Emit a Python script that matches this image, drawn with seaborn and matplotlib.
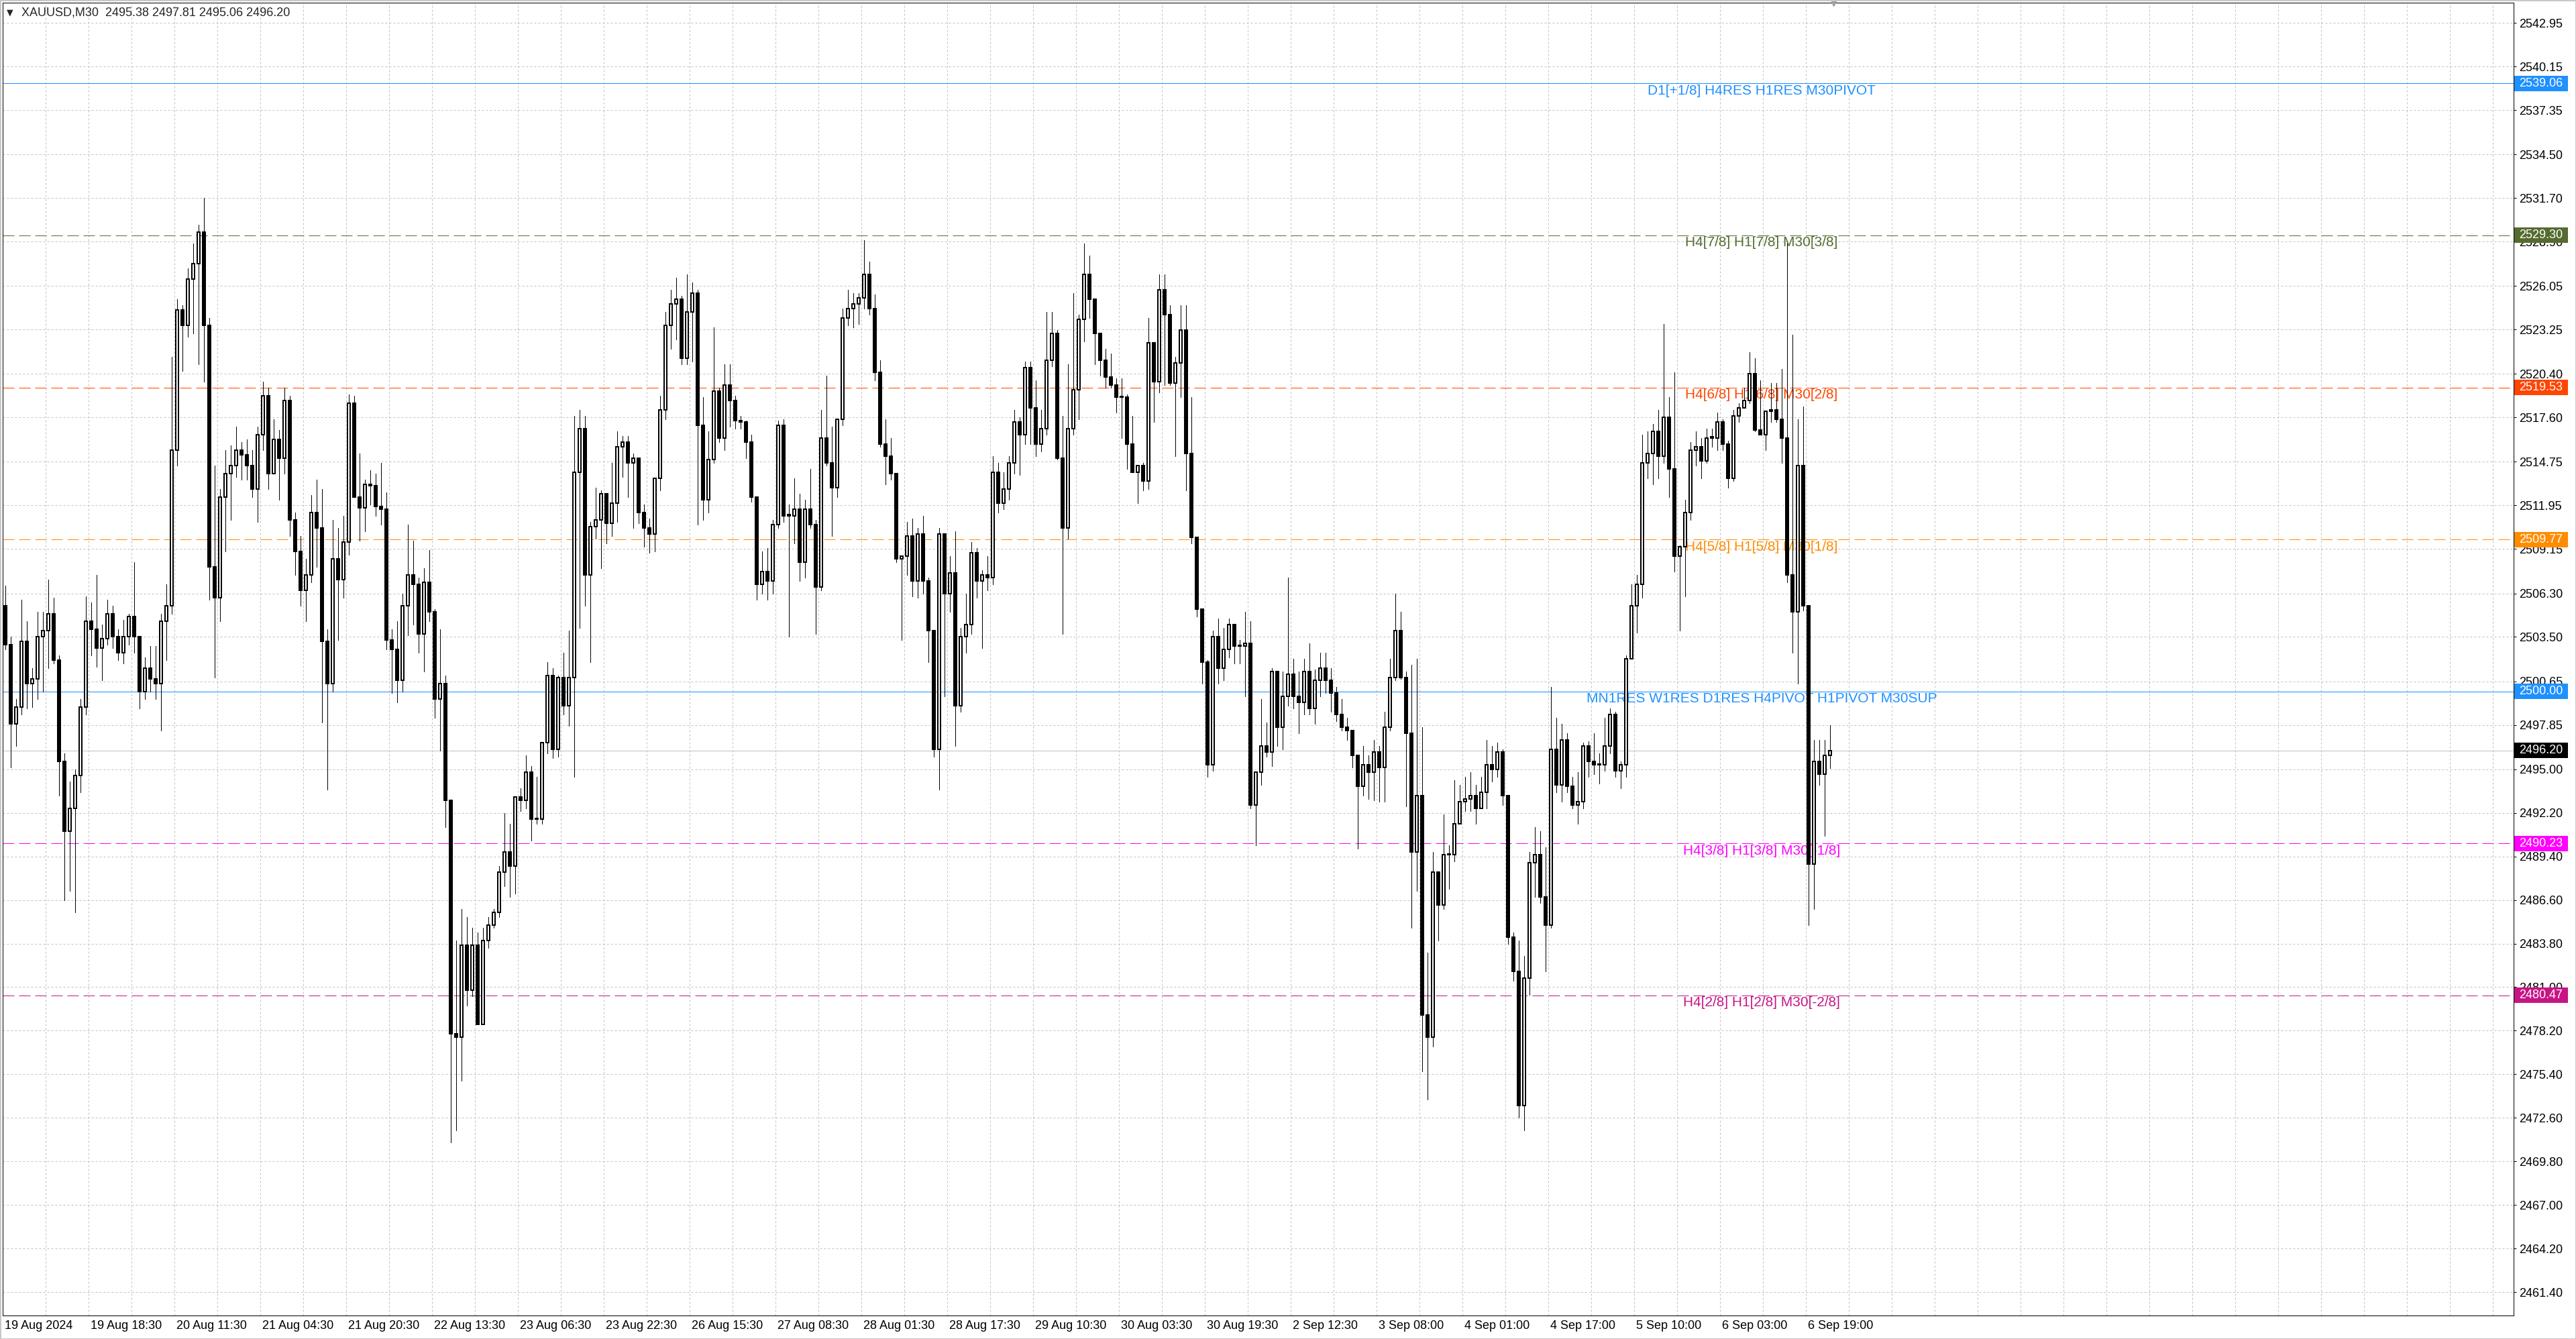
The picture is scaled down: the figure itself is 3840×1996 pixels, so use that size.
import matplotlib
matplotlib.use('Agg')
import matplotlib.pyplot as plt
import matplotlib.transforms as mtransforms
from matplotlib.patches import Rectangle
import numpy as np
import pandas as pd
import seaborn as sns

W, H, DPI = 3840, 1996, 100
PX = 72.0 / DPI  # one pixel expressed in points

# XAUUSD hourly bars (19 Aug - 6 Sep 2024)
first_open = 2505.5
highs = [
    2506.8, 2503.5, 2499.5, 2505.9, 2504.5, 2501.5, 2505.1, 2505.1, 2507.2, 2506.0,
    2502.3, 2496.0, 2494.2, 2495.0, 2499.5, 2506.1, 2505.7, 2507.5, 2504.3, 2505.9,
    2505.5, 2504.0, 2504.6, 2505.0, 2508.3, 2503.5, 2502.2, 2502.9, 2502.9, 2505.0,
    2506.9, 2521.5, 2525.2, 2524.8, 2527.2, 2528.8, 2530.0, 2531.7, 2524.0, 2514.5,
    2513.0, 2515.5, 2515.8, 2517.0, 2516.0, 2516.2, 2515.5, 2517.0, 2519.9, 2519.5,
    2517.5, 2516.8, 2519.5, 2519.0, 2511.5, 2510.0, 2508.5, 2512.6, 2513.6, 2513.0,
    2504.0, 2511.0, 2510.5, 2511.3, 2519.1, 2519.0, 2515.3, 2513.6, 2514.2, 2514.0,
    2514.7, 2512.8, 2504.0, 2504.5, 2506.3, 2510.7, 2509.7, 2507.3, 2507.9, 2509.1,
    2505.3, 2504.0, 2501.0, 2493.0, 2484.0, 2486.0, 2485.5, 2484.8, 2484.5, 2484.8,
    2485.5, 2486.0, 2488.8, 2492.2, 2491.5, 2493.2, 2493.8, 2495.9, 2495.2, 2494.5,
    2496.7, 2501.9, 2501.5, 2501.0, 2502.5, 2503.9, 2517.7, 2518.1, 2517.7, 2510.9,
    2513.1, 2512.9, 2512.3, 2514.7, 2516.7, 2516.4, 2516.4, 2515.3, 2515.0, 2512.0,
    2511.1, 2513.7, 2519.0, 2524.4, 2525.8, 2526.6, 2525.4, 2526.8, 2526.3, 2525.8,
    2518.9, 2516.7, 2523.4, 2519.5, 2521.0, 2521.0, 2519.0, 2517.7, 2517.4, 2516.5,
    2512.5, 2509.0, 2509.2, 2511.0, 2517.4, 2517.5, 2512.0, 2513.7, 2512.7, 2512.3,
    2514.3, 2511.0, 2518.1, 2520.3, 2517.0, 2517.5, 2524.6, 2525.8, 2525.6, 2525.6,
    2529.0, 2527.6, 2525.5, 2521.3, 2517.5, 2516.3, 2514.0, 2508.7, 2510.9, 2511.1,
    2510.5, 2511.3, 2507.3, 2503.9, 2510.5, 2510.1, 2508.7, 2510.3, 2504.1, 2506.3,
    2509.6, 2509.2, 2507.8, 2508.7, 2515.1, 2514.7, 2514.1, 2515.1, 2518.1, 2517.6,
    2521.2, 2521.2, 2520.0, 2518.1, 2524.4, 2524.4, 2523.2, 2517.7, 2521.0, 2525.6,
    2524.2, 2528.8, 2528.0, 2525.2, 2523.0, 2522.0, 2521.7, 2520.1, 2520.1, 2519.1,
    2517.7, 2514.5, 2514.7, 2524.0, 2522.4, 2526.8, 2526.8, 2524.8, 2521.5, 2524.8,
    2524.8, 2518.9, 2509.9, 2505.3, 2502.0, 2503.9, 2504.7, 2504.1, 2504.7, 2504.3,
    2503.3, 2505.1, 2504.5, 2494.8, 2499.5, 2498.0, 2501.5, 2501.3, 2501.3, 2507.3,
    2502.1, 2501.3, 2502.1, 2503.1, 2501.4, 2502.5, 2502.5, 2501.5, 2500.3, 2499.5,
    2498.3, 2497.5, 2495.9, 2496.5, 2495.9, 2496.9, 2496.5, 2498.7, 2502.1, 2506.3,
    2505.1, 2501.3, 2501.7, 2502.1, 2497.7, 2483.2, 2489.7, 2488.4, 2492.1, 2490.1,
    2494.3, 2494.0, 2494.5, 2494.8, 2494.0, 2494.5, 2496.9, 2496.5, 2496.7, 2496.3,
    2493.3, 2484.5, 2484.0, 2483.0, 2489.7, 2491.3, 2491.0, 2490.0, 2500.3, 2498.3,
    2497.9, 2497.3, 2494.5, 2494.8, 2496.7, 2496.8, 2497.3, 2496.0, 2498.3, 2498.9,
    2498.7, 2495.5, 2502.3, 2506.9, 2507.5, 2516.5, 2516.7, 2517.2, 2518.1, 2523.6,
    2518.9, 2520.5, 2509.4, 2512.3, 2516.0, 2516.7, 2516.3, 2516.9, 2516.9, 2517.9,
    2517.5, 2516.1, 2518.1, 2518.5, 2519.5, 2521.8, 2521.4, 2520.0, 2518.0, 2519.8,
    2519.8, 2520.7, 2528.8, 2522.9, 2517.5, 2518.3, 2505.5, 2496.9, 2496.9, 2496.9,
    2497.81,
]
lows = [
    2502.7, 2495.1, 2496.5, 2498.5, 2498.9, 2499.0, 2499.5, 2500.0, 2501.5, 2501.8,
    2493.3, 2486.6, 2487.2, 2485.8, 2493.5, 2498.5, 2502.3, 2501.6, 2500.7, 2503.0,
    2502.8, 2502.0, 2501.8, 2503.0, 2502.5, 2498.9, 2499.5, 2500.0, 2499.5, 2497.5,
    2502.0, 2505.0, 2514.5, 2520.6, 2522.8, 2523.0, 2521.0, 2519.9, 2505.9, 2500.9,
    2504.5, 2509.0, 2511.0, 2513.8, 2513.6, 2513.6, 2512.5, 2510.9, 2515.5, 2513.0,
    2514.5, 2512.3, 2514.0, 2510.0, 2507.5, 2505.5, 2504.5, 2507.0, 2508.0, 2498.0,
    2493.7, 2500.0, 2503.3, 2506.0, 2508.8, 2512.5, 2509.7, 2510.3, 2512.0, 2511.3,
    2510.7, 2502.7, 2499.9, 2499.3, 2500.0, 2503.6, 2504.3, 2502.5, 2501.3, 2504.5,
    2498.3, 2496.2, 2491.3, 2471.0, 2471.8, 2475.0, 2479.8, 2480.4, 2478.6, 2478.6,
    2483.5, 2484.8, 2485.5, 2487.5, 2486.8, 2487.0, 2492.3, 2492.5, 2490.4, 2491.5,
    2491.5, 2496.0, 2495.7, 2495.8, 2498.5, 2497.8, 2494.5, 2504.1, 2505.5, 2501.9,
    2509.8, 2507.9, 2509.5, 2510.0, 2510.9, 2513.8, 2512.5, 2510.5, 2510.8, 2509.3,
    2508.9, 2509.0, 2512.9, 2517.5, 2522.0, 2522.6, 2521.0, 2521.0, 2521.2, 2510.7,
    2511.0, 2511.5, 2514.7, 2516.0, 2515.5, 2517.0, 2516.9, 2516.9, 2515.0, 2512.2,
    2505.9, 2506.3, 2505.9, 2506.3, 2510.5, 2510.9, 2503.5, 2509.5, 2507.1, 2507.3,
    2510.5, 2503.7, 2506.5, 2514.5, 2510.0, 2512.5, 2517.1, 2523.5, 2523.4, 2523.6,
    2524.6, 2524.2, 2520.0, 2515.7, 2513.3, 2513.6, 2508.3, 2503.3, 2507.5, 2506.1,
    2506.0, 2506.3, 2501.9, 2495.8, 2493.7, 2499.7, 2505.1, 2496.5, 2498.7, 2502.5,
    2503.7, 2506.0, 2502.8, 2506.5, 2506.9, 2511.5, 2511.7, 2512.3, 2514.0, 2513.9,
    2515.9, 2515.9, 2515.1, 2515.4, 2516.5, 2520.9, 2514.9, 2503.7, 2509.8, 2516.5,
    2517.5, 2522.5, 2524.0, 2521.0, 2520.3, 2519.5, 2519.5, 2517.9, 2516.3, 2514.3,
    2514.1, 2512.1, 2512.9, 2513.0, 2517.3, 2519.2, 2519.7, 2519.7, 2515.1, 2518.9,
    2512.9, 2509.5, 2504.8, 2500.5, 2494.5, 2494.9, 2500.5, 2500.7, 2502.2, 2501.8,
    2501.8, 2499.7, 2492.5, 2490.1, 2494.0, 2495.8, 2495.2, 2496.5, 2496.3, 2499.1,
    2498.9, 2497.3, 2498.5, 2498.5, 2497.9, 2499.7, 2499.9, 2498.7, 2498.1, 2497.5,
    2496.9, 2495.1, 2489.9, 2493.3, 2493.1, 2493.0, 2492.9, 2492.9, 2497.5, 2500.7,
    2500.8, 2492.6, 2484.8, 2487.2, 2475.6, 2473.8, 2477.2, 2484.0, 2486.0, 2487.3,
    2489.1, 2491.6, 2492.3, 2492.3, 2491.5, 2492.5, 2492.5, 2494.2, 2494.5, 2492.7,
    2483.8, 2481.4, 2472.6, 2471.8, 2480.5, 2486.8, 2486.4, 2482.0, 2484.8, 2493.5,
    2492.9, 2493.5, 2492.5, 2491.5, 2492.5, 2494.5, 2494.7, 2494.1, 2494.9, 2496.0,
    2494.5, 2493.8, 2494.5, 2502.1, 2503.8, 2506.0, 2513.7, 2513.3, 2513.7, 2514.7,
    2512.5, 2507.7, 2503.9, 2506.1, 2511.0, 2514.5, 2513.7, 2514.7, 2515.7, 2515.5,
    2515.5, 2513.1, 2513.5, 2517.3, 2518.4, 2518.5, 2516.7, 2516.5, 2515.5, 2517.3,
    2517.3, 2514.7, 2507.0, 2502.5, 2500.5, 2505.2, 2485.0, 2486.0, 2494.0, 2490.7,
    2495.06,
]
closes = [
    2503.0, 2497.9, 2499.0, 2503.2, 2500.5, 2500.8, 2503.5, 2503.9, 2505.0, 2502.0,
    2495.5, 2491.0, 2492.5, 2494.6, 2499.0, 2504.5, 2504.0, 2502.8, 2503.4, 2505.0,
    2503.5, 2502.5, 2503.5, 2504.8, 2503.5, 2500.0, 2501.5, 2500.8, 2500.5, 2504.5,
    2505.5, 2515.5, 2524.5, 2523.5, 2526.5, 2527.5, 2529.5, 2523.5, 2508.0, 2506.0,
    2512.5, 2514.0, 2514.5, 2515.5, 2515.2, 2514.5, 2513.0, 2516.5, 2519.0, 2514.0,
    2516.2, 2515.0, 2518.7, 2511.0, 2509.0, 2506.5, 2507.5, 2511.5, 2510.5, 2503.2,
    2500.5, 2508.5, 2507.2, 2509.6, 2518.5, 2512.5, 2511.8, 2513.3, 2513.2, 2511.9,
    2511.7, 2503.3, 2502.7, 2500.7, 2505.5, 2507.5, 2506.9, 2503.7, 2507.0, 2505.1,
    2499.5, 2500.5, 2493.0, 2478.0, 2477.8, 2483.7, 2480.8, 2483.7, 2478.6, 2484.0,
    2485.0, 2485.8, 2488.4, 2489.7, 2488.8, 2493.2, 2493.0, 2494.8, 2491.8, 2491.8,
    2496.7, 2501.0, 2496.3, 2500.9, 2499.1, 2500.9, 2514.1, 2516.9, 2507.5, 2510.6,
    2511.0, 2512.7, 2510.8, 2512.1, 2515.7, 2516.0, 2514.7, 2515.0, 2511.5, 2510.5,
    2510.1, 2513.7, 2518.1, 2523.5, 2524.9, 2525.2, 2521.4, 2524.4, 2525.6, 2517.1,
    2512.3, 2514.9, 2519.3, 2516.3, 2519.7, 2518.7, 2517.4, 2517.3, 2516.0, 2512.5,
    2506.9, 2507.7, 2507.1, 2510.7, 2517.1, 2511.3, 2511.3, 2511.7, 2508.3, 2511.7,
    2510.7, 2506.7, 2516.3, 2514.7, 2513.1, 2517.5, 2524.0, 2524.6, 2524.9, 2525.3,
    2526.8, 2524.6, 2520.5, 2515.9, 2515.1, 2514.0, 2508.5, 2508.7, 2510.0, 2507.1,
    2510.1, 2507.1, 2503.9, 2496.3, 2510.1, 2506.3, 2507.6, 2499.1, 2503.5, 2504.3,
    2508.9, 2507.1, 2507.5, 2507.3, 2514.1, 2512.1, 2513.0, 2514.7, 2517.3, 2516.5,
    2520.8, 2518.2, 2515.9, 2516.9, 2521.3, 2523.0, 2515.0, 2510.5, 2516.9, 2519.4,
    2523.9, 2526.8, 2525.2, 2523.0, 2521.3, 2520.2, 2519.7, 2518.9, 2518.9, 2515.9,
    2514.1, 2514.5, 2513.5, 2522.4, 2519.9, 2525.8, 2524.2, 2519.8, 2521.1, 2523.2,
    2515.3, 2509.9, 2505.3, 2501.9, 2495.3, 2503.5, 2501.5, 2502.7, 2504.3, 2502.9,
    2502.9, 2503.1, 2492.7, 2494.8, 2496.5, 2496.1, 2501.3, 2497.7, 2499.7, 2501.1,
    2499.7, 2499.3, 2501.3, 2498.9, 2500.7, 2501.5, 2500.7, 2499.9, 2498.5, 2497.7,
    2497.5, 2495.9, 2493.9, 2495.3, 2494.8, 2496.1, 2495.1, 2497.7, 2500.9, 2503.9,
    2500.9, 2497.3, 2489.7, 2493.3, 2479.2, 2477.8, 2488.4, 2486.3, 2489.5, 2489.5,
    2491.5, 2492.9, 2493.1, 2493.3, 2492.5, 2493.5, 2495.3, 2495.0, 2496.1, 2493.3,
    2484.2, 2482.0, 2473.4, 2481.6, 2489.0, 2489.5, 2486.8, 2485.0, 2496.3, 2494.0,
    2496.9, 2493.9, 2492.7, 2492.9, 2496.5, 2495.5, 2495.3, 2495.3, 2496.5, 2498.5,
    2494.9, 2495.3, 2502.1, 2505.5, 2506.9, 2514.7, 2515.3, 2516.7, 2515.1, 2517.6,
    2514.3, 2508.7, 2509.3, 2511.5, 2515.5, 2515.7, 2514.8, 2516.3, 2516.3, 2517.3,
    2515.9, 2513.7, 2517.7, 2518.2, 2518.7, 2520.4, 2516.8, 2516.5, 2518.0, 2518.1,
    2517.5, 2516.3, 2507.5, 2505.1, 2514.5, 2505.5, 2488.9, 2495.5, 2494.7, 2495.9,
    2496.20,
]

xtick_labels = [
    '19 Aug 2024', '19 Aug 18:30', '20 Aug 11:30', '21 Aug 04:30', '21 Aug 20:30',
    '22 Aug 13:30', '23 Aug 06:30', '23 Aug 22:30', '26 Aug 15:30', '27 Aug 08:30',
    '28 Aug 01:30', '28 Aug 17:30', '29 Aug 10:30', '30 Aug 03:30', '30 Aug 19:30',
    '2 Sep 12:30', '3 Sep 08:00', '4 Sep 01:00', '4 Sep 17:00', '5 Sep 10:00',
    '6 Sep 03:00', '6 Sep 19:00',
]
ytick_values = [
    2461.40, 2464.20, 2467.00, 2469.80, 2472.60, 2475.40, 2478.20, 2481.00, 2483.80,
    2486.60, 2489.40, 2492.20, 2495.00, 2497.85, 2500.65, 2503.50, 2506.30, 2509.15,
    2511.95, 2514.75, 2517.60, 2520.40, 2523.25, 2526.05, 2528.90, 2531.70, 2534.50,
    2537.35, 2540.15, 2542.95,
]

level_prices = [2539.06, 2529.30, 2519.53, 2509.77, 2500.00, 2490.23, 2480.47]
level_colors = ['#1E90FF', '#556B2F', '#FF4500', '#FF8C00', '#1E90FF', '#FF00FF', '#C71585']
level_dashed = [False, True, True, True, False, True, True]
level_texts = [
    'D1[+1/8] H4RES H1RES M30PIVOT',
    'H4[7/8] H1[7/8] M30[3/8]',
    'H4[6/8] H1[6/8] M30[2/8]',
    'H4[5/8] H1[5/8] M30[1/8]',
    'MN1RES W1RES D1RES H4PIVOT H1PIVOT M30SUP',
    'H4[3/8] H1[3/8] M30[-1/8]',
    'H4[2/8] H1[2/8] M30[-2/8]',
]
current_price = 2496.20
header = 'XAUUSD,M30  2495.38 2497.81 2495.06 2496.20'

sns.set_style('white')
plt.rcParams['font.family'] = ['Liberation Sans', 'DejaVu Sans']
plt.rcParams['lines.solid_capstyle'] = 'butt'

df = pd.DataFrame({'high': highs, 'low': lows, 'close': closes})
df['open'] = df['close'].shift(1).fillna(first_open)
df['high'] = df[['high', 'open', 'close']].max(axis=1)
df['low'] = df[['low', 'open', 'close']].min(axis=1)
df['bar'] = np.arange(len(df))
df['bottom'] = df[['open', 'close']].min(axis=1)
df['body'] = np.maximum((df['close'] - df['open']).abs(), 0.05)
up = df['close'] >= df['open']

fig = plt.figure(figsize=(W / DPI, H / DPI), dpi=DPI, facecolor='white')
ax_left, ax_right, ax_top, ax_bottom = 4, 3747, 4.3, 1961
ax = fig.add_axes([ax_left / W, (H - ax_bottom) / H,
                   (ax_right - ax_left) / W, (ax_bottom - ax_top) / H])
ax.set_facecolor('white')

# one hour = 8 screen pixels, chart shift on the right
x_lo = -0.5
x_hi = x_lo + (ax_right - ax_left) / 8.0
y_lo, y_hi = 2459.90, 2544.24

grid_kw = dict(color='#C0C0C0', linewidth=PX, linestyle=(0, (3, 3)), zorder=0.5)
ax.set_xticks(np.arange(len(xtick_labels)) * 16 - 0.5)
minor = np.arange(0, 60) * 8 - 0.5
ax.set_xticks(minor[minor < x_hi], minor=True)
ax.set_xticklabels(xtick_labels, ha='left')
ax.set_yticks(ytick_values)
ax.set_yticklabels([f'{v:.2f}' for v in ytick_values])
ax.yaxis.tick_right()
ax.grid(True, which='both', axis='x', **grid_kw)
ax.grid(True, which='major', axis='y', **grid_kw)
ax.set_axisbelow(True)
ax.tick_params(axis='y', which='major', direction='out', length=4 * PX, width=PX,
               pad=4 * PX, labelsize=13, colors='black', right=True, left=False)
ax.tick_params(axis='x', which='major', direction='out', length=5 * PX, width=PX,
               pad=2 * PX, labelsize=13, colors='black')
ax.tick_params(axis='x', which='minor', length=0)
shift = mtransforms.ScaledTranslation(3 / DPI, 0, fig.dpi_scale_trans)
for lab in ax.get_xticklabels():
    lab.set_transform(lab.get_transform() + shift)
for sp in ax.spines.values():
    sp.set_visible(True)
    sp.set_color('black')
    sp.set_linewidth(PX)

# level lines and their labels
label_x = 327.25
for price, col, dashed, txt in zip(level_prices, level_colors, level_dashed, level_texts):
    ls = (0, (17, 7)) if dashed else '-'
    ax.axhline(price, color=col, linewidth=PX, linestyle=ls, zorder=1)
    ax.annotate(txt, xy=(label_x, price), xytext=(0, -11 * PX), textcoords='offset points',
                ha='center', va='center', fontsize=15, color=col, zorder=2)
ax.axhline(current_price, color='#C0C0C0', linewidth=PX, zorder=1)

# candles
ax.vlines(df['bar'], df['low'], df['high'], colors='black', linewidth=PX,
          zorder=3, antialiased=False)
ax.bar(df.loc[up, 'bar'], df.loc[up, 'body'], bottom=df.loc[up, 'bottom'], width=0.5,
       color='white', edgecolor='black', linewidth=2 * PX, zorder=4, antialiased=False)
ax.bar(df.loc[~up, 'bar'], df.loc[~up, 'body'], bottom=df.loc[~up, 'bottom'], width=0.5,
       color='black', edgecolor='black', linewidth=2 * PX, zorder=4, antialiased=False)

# limits last: set_xticks may have widened them
ax.set_xlim(x_lo, x_hi)
ax.set_ylim(y_lo, y_hi)

# price boxes on the right scale
px_per_unit = (ax_bottom - ax_top) / (y_hi - y_lo)
box_h = 23 / px_per_unit
tr = mtransforms.blended_transform_factory(fig.transFigure, ax.transData)
box_prices = level_prices + [current_price]
box_colors = level_colors + ['black']
for price, col in zip(box_prices, box_colors):
    ax.add_patch(Rectangle((3748 / W, price - box_h / 2), 80 / W, box_h, transform=tr,
                           facecolor=col, edgecolor='none', clip_on=False, zorder=10))
    ax.text(3788 / W, price, f'{price:.2f}', transform=tr, ha='center', va='center',
            fontsize=13, color='white', clip_on=False, zorder=11)

# chart shift marker
ax.plot([len(df) - 0.4], [y_hi], marker='v', markersize=9 * PX, color='#A0A0A0',
        clip_on=False, zorder=12)

# header
fig.text(15 / W, 1 - 19 / H, '\u25bc', ha='center', va='center', fontsize=9,
         family=['DejaVu Sans'])
fig.text(32 / W, 1 - 19 / H, header, ha='left', va='center', fontsize=13)

fig.add_artist(Rectangle((0, 0), 1, 1, transform=fig.transFigure, fill=False,
                         edgecolor='#C8C8C8', linewidth=3 * PX))

fig.savefig('out.png', dpi=DPI, facecolor='white')
